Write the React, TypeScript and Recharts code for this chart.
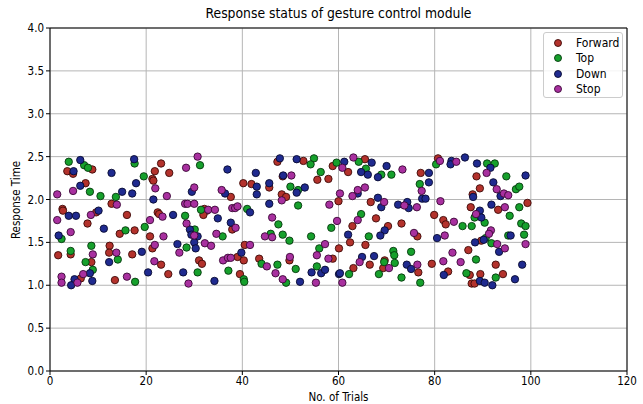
import { ScatterChart, Scatter, XAxis, YAxis, CartesianGrid, ReferenceLine } from "recharts";

// [trial, response time]
const forwardPoints = [
  [8.8, 2.35], [3.6, 2.33], [4.8, 2.3], [7.4, 2.19], [12.8, 1.95], [2.6, 1.89], [2.7, 1.87], [9.6, 1.85],
  [16, 1.82], [7.8, 1.72], [14.5, 1.6], [17.6, 1.64], [1.7, 1.35], [4.3, 1.36], [12.4, 1.46], [12.3, 1.38],
  [17.1, 1.36], [8.6, 1.27], [6.4, 1.08], [13.5, 1.06],
  [23.1, 2.42], [21.8, 2.33], [24.8, 2.31], [40.2, 2.19], [21.3, 2.24], [21.5, 2.22], [37.6, 2.03], [32.1, 1.89],
  [32.6, 1.87], [31.9, 1.82], [22.4, 1.85], [22.7, 1.83], [37.9, 1.65], [20.8, 1.57], [21.3, 1.43], [31, 1.29],
  [31.6, 1.25], [39, 1.33], [23.1, 1.24], [24.6, 1.13], [39.5, 1.13],
  [47.3, 2.44], [52.7, 2.45], [58.8, 2.39], [48.4, 2.27], [55.6, 2.23], [57.9, 2.24], [41.9, 2.18], [45.6, 2.14],
  [48.2, 2.06], [49.1, 2.03], [60, 1.98], [40.5, 1.47], [40.3, 1.29], [58.8, 1.31], [43.5, 1.31], [49.8, 1.29],
  [65.5, 2.47], [62, 2.32], [77.1, 2.31], [66.7, 1.97], [79.9, 1.82], [67.8, 1.78], [62.9, 1.69], [73.1, 1.72],
  [70.3, 1.69], [76.4, 1.57], [62.4, 1.5], [60.1, 1.43], [65.6, 1.47], [66.5, 1.24], [69.6, 1.29], [69.3, 1.2],
  [76.6, 1.15], [79.4, 1.25], [63.1, 1.2],
  [80.7, 2.48], [88.7, 2.27], [89.4, 2.13], [87.9, 2.06], [99.3, 1.96], [87.5, 1.91], [93.2, 1.88], [81.8, 1.76],
  [82.3, 1.71], [89.7, 1.52], [87, 1.41], [92.7, 1.24], [82.8, 1.16], [87.3, 1.12], [89.5, 1.13], [94.2, 1.13],
  [87.7, 1.02], [88.3, 1.02],
];

const topPoints = [
  [3.9, 2.44], [7.1, 2.4], [7.9, 2.37], [17.6, 2.42], [19.5, 2.27], [8.3, 2.09], [10.5, 2.04], [13.7, 2.03],
  [15.7, 1.64], [19.7, 1.68], [2.4, 1.54], [4.3, 1.4], [8.6, 1.46], [14.1, 1.3], [7.4, 1.27], [8.9, 1.18],
  [17.7, 1.04],
  [31.2, 2.4], [31.4, 1.88], [28.1, 1.81], [30.1, 1.65], [35.9, 1.57], [28.4, 1.44], [30.7, 1.15], [37.1, 1.17],
  [54.9, 2.48], [54.2, 2.41], [59.6, 2.43], [56.3, 2.32], [50, 2.15], [51.6, 2.11], [51.6, 1.93], [41, 1.89],
  [47.5, 1.71], [58.5, 1.67], [45.9, 1.6], [48.4, 1.59], [49.8, 1.52], [54.3, 1.57], [56, 1.43], [44, 1.25],
  [47.3, 1.24], [51.1, 1.19], [55.5, 1.22], [40.3, 1.07], [40.4, 1.04], [49.1, 1.03],
  [64.2, 2.44], [65.7, 2.36], [68.9, 2.29], [71, 2.29], [76.9, 2.18], [64.7, 1.83], [66.3, 1.57], [71.4, 1.4],
  [71.6, 1.35], [75.1, 1.39], [69.5, 1.27], [71.7, 1.26], [62.2, 1.13], [68.4, 1.13], [73.1, 1.09], [77, 1.03],
  [80.3, 2.41], [90.9, 2.42], [92.5, 2.42], [94.9, 2.27], [96.9, 2.12], [97.6, 2.15], [97.6, 1.91], [88.3, 1.79],
  [95.6, 1.81], [85.8, 1.69], [87.7, 1.69], [90.4, 1.73], [98, 1.72], [98.9, 1.69], [90.6, 1.55], [95.3, 1.58],
  [98.6, 1.59], [91.8, 1.49], [88.6, 1.3], [86.6, 1.14], [92.7, 1.09],
];

const downPoints = [
  [6.3, 2.46], [17.5, 2.47], [4.9, 2.33], [12.8, 2.31], [6.3, 2.16], [15, 2.09], [17.1, 2.07], [17.9, 2.19],
  [3.9, 1.81], [5.4, 1.81], [10.1, 1.87], [11.2, 1.66], [1.8, 1.58], [19.1, 1.39], [12.3, 1.27], [8.3, 1.14],
  [5.1, 1.07], [4.4, 1.0], [8.8, 1.05],
  [36.9, 2.35], [29.5, 2.09], [36.4, 2.07], [21.5, 2.0], [25.6, 1.82], [34.9, 1.78], [37.6, 1.73], [29.1, 1.65],
  [29.4, 1.59], [30.7, 1.57], [26.5, 1.48], [30, 1.5], [30.3, 1.43], [39.8, 1.38], [20.4, 1.15], [27.7, 1.15],
  [34.2, 1.05],
  [47.8, 2.48], [51.3, 2.47], [42.8, 2.31], [48.5, 2.28], [43, 2.15], [45.6, 2.19], [53, 2.14], [51.3, 2.08],
  [43, 2.06], [45.6, 1.95], [41.6, 1.85], [54.4, 1.15], [56.4, 1.14], [57.2, 1.18], [52, 1.04], [60.1, 1.13],
  [61.2, 2.44], [66.9, 2.43], [70, 2.39], [64.7, 2.32], [66.1, 2.29], [68.2, 2.26], [78.8, 2.31], [78.8, 2.2],
  [64, 2.07], [68.2, 2.02], [68.9, 1.91], [72.4, 1.94], [74.3, 1.97], [74.6, 1.9], [77.4, 2.01], [78.1, 2.01],
  [69.6, 1.64], [68.7, 1.58], [62, 1.59], [80.5, 1.55], [67.4, 1.34], [64.9, 1.33], [74.2, 1.24], [75.1, 1.19],
  [60.3, 1.14],
  [83.5, 2.45], [83.3, 2.41], [86.3, 2.49], [88.8, 2.42], [91.6, 2.37], [98.9, 2.28], [92.2, 2.2], [93.7, 2.04],
  [88, 2.03], [91.8, 1.94], [89.4, 1.87], [89.7, 1.79], [90.2, 1.53], [95.8, 1.58], [88.4, 1.5], [93.4, 1.39],
  [98.2, 1.24], [81.9, 1.12], [96.7, 1.07], [89.4, 1.05], [90.4, 1.03], [92, 1.0],
];

const stopPoints = [
  [4.8, 2.1], [1.5, 2.06], [13.9, 1.94], [1.5, 1.76], [8.5, 1.82], [4.3, 1.62], [8.9, 1.36], [13.8, 1.38],
  [6.9, 1.13], [2.4, 1.1], [2.4, 1.03], [5.7, 1.03], [16, 1.1],
  [30.7, 2.5], [28.3, 2.37], [21.9, 2.13], [30, 2.14], [24.3, 2.04], [35.7, 2.11], [28.1, 1.95], [28.6, 1.95],
  [30, 1.95], [32.9, 1.88], [34.3, 1.88], [37.9, 1.9], [38.5, 1.9], [39, 1.92], [23.4, 1.8], [20.8, 1.76],
  [38.6, 1.67], [28.4, 1.72], [30, 1.58], [34.6, 1.6], [23.6, 1.57], [21.8, 1.47], [32.2, 1.49], [26.9, 1.38],
  [33.5, 1.46], [36, 1.29], [37, 1.32], [37.6, 1.32], [21.7, 1.28], [28.8, 1.02],
  [50.2, 2.28], [48.2, 1.99], [58.1, 1.94], [46.2, 1.79], [59.7, 1.75], [44.7, 1.57], [46.2, 1.56], [41.6, 1.47],
  [57.2, 1.48], [55.5, 1.35], [57.9, 1.31], [49.9, 1.33], [45.1, 1.22], [46.9, 1.14], [48.4, 1.07], [55.3, 1.03],
  [63.1, 2.49], [60.8, 2.37], [73.3, 2.35], [77.3, 2.1], [65.5, 2.14], [64, 2.11], [62.9, 2.04], [60.3, 2.07],
  [69.5, 1.97], [73.7, 1.93], [76.3, 1.91], [64, 1.76], [75.7, 1.61], [64.4, 1.27], [70.5, 1.2], [76.4, 1.24],
  [60.8, 1.03],
  [81.1, 2.45], [84.5, 2.44], [90.8, 2.31], [92.9, 2.12], [94.4, 2.07], [95.3, 2.05], [81.2, 1.98], [94.6, 1.91],
  [88.6, 1.83], [84, 1.74], [91.7, 1.64], [91.3, 1.6], [82.1, 1.58], [93, 1.48], [98.9, 1.48], [94.6, 1.43],
  [83.7, 1.38], [85.4, 1.27], [81.8, 1.28],
];

const xTicks = [0, 20, 40, 60, 80, 100, 120];
const yTicks = [0, 0.5, 1, 1.5, 2, 2.5, 3, 3.5, 4];

const FONT = "'DejaVu Sans Condensed', 'DejaVu Sans', sans-serif";

const series = [
  { name: "Forward", points: forwardPoints, fill: "#b3322c", edge: "#3d0a08" },
  { name: "Top", points: topPoints, fill: "#16a02c", edge: "#06380d" },
  { name: "Down", points: downPoints, fill: "#1f2a8f", edge: "#080a30" },
  { name: "Stop", points: stopPoints, fill: "#a8309f", edge: "#3a0836" },
];

const toData = (pts: number[][]) => pts.map(([x, y]) => ({ x, y }));

const dot = (fill: string, edge: string) => (props: any) => (
  <circle cx={props.cx} cy={props.cy} r={3.7} fill={fill} stroke={edge} strokeWidth={0.9} />
);

export default function App() {
  return (
    <div style={{ position: "absolute", left: 0, top: 0, width: 643, height: 404, background: "#fff" }}>
      <div
        style={{
          position: "absolute",
          left: 0,
          width: 677,
          top: 5,
          textAlign: "center",
          fontFamily: FONT,
          fontSize: 13.8,
        }}
      >
        Response status of gesture control module
      </div>
      <div
        style={{
          position: "absolute",
          left: 0,
          width: 677,
          top: 390,
          textAlign: "center",
          fontFamily: FONT,
          fontSize: 11.5,
        }}
      >
        No. of Trials
      </div>
      <div
        style={{
          position: "absolute",
          left: 16,
          top: 200,
          transform: "translate(-50%, -50%) rotate(-90deg)",
          whiteSpace: "nowrap",
          fontFamily: FONT,
          fontSize: 11.5,
        }}
      >
        Response Time
      </div>
      <ScatterChart width={643} height={404} margin={{ top: 28, right: 16, bottom: 0, left: 0 }}>
        <CartesianGrid stroke="#b5b5b5" strokeWidth={1} />
        <XAxis
          type="number"
          dataKey="x"
          domain={[0, 120]}
          ticks={xTicks}
          height={33}
          axisLine={{ stroke: "#000" }}
          tickLine={{ stroke: "#000" }}
          tickSize={4}
          tick={{ fill: "#000", fontSize: 11.5, fontFamily: FONT }}
        />
        <YAxis
          type="number"
          dataKey="y"
          domain={[0, 4]}
          ticks={yTicks}
          width={50}
          axisLine={{ stroke: "#000" }}
          tickLine={{ stroke: "#000" }}
          tickSize={4}
          tickFormatter={(v: number) => v.toFixed(1)}
          tick={{ fill: "#000", fontSize: 11.5, fontFamily: FONT }}
        />
        <ReferenceLine x={120} stroke="#000" />
        <ReferenceLine y={4} stroke="#000" />
        {series.map((s) => (
          <Scatter
            key={s.name}
            name={s.name}
            data={toData(s.points)}
            fill={s.fill}
            shape={dot(s.fill, s.edge)}
            isAnimationActive={false}
          />
        ))}
      </ScatterChart>
      <div
        style={{
          position: "absolute",
          left: 543,
          top: 32,
          width: 78,
          height: 62,
          border: "1px solid #cccccc",
          borderRadius: 3,
          background: "rgba(255,255,255,0.85)",
          paddingTop: 2,
          fontFamily: FONT,
          fontSize: 12,
        }}
      >
        {series.map((s) => (
          <div key={s.name} style={{ display: "flex", alignItems: "center", height: 15.5 }}>
            <svg width={30} height={12}>
              <circle cx={14} cy={6} r={3.5} fill={s.fill} stroke={s.edge} strokeWidth={0.9} />
            </svg>
            <span style={{ marginLeft: 2 }}>{s.name}</span>
          </div>
        ))}
      </div>
    </div>
  );
}
